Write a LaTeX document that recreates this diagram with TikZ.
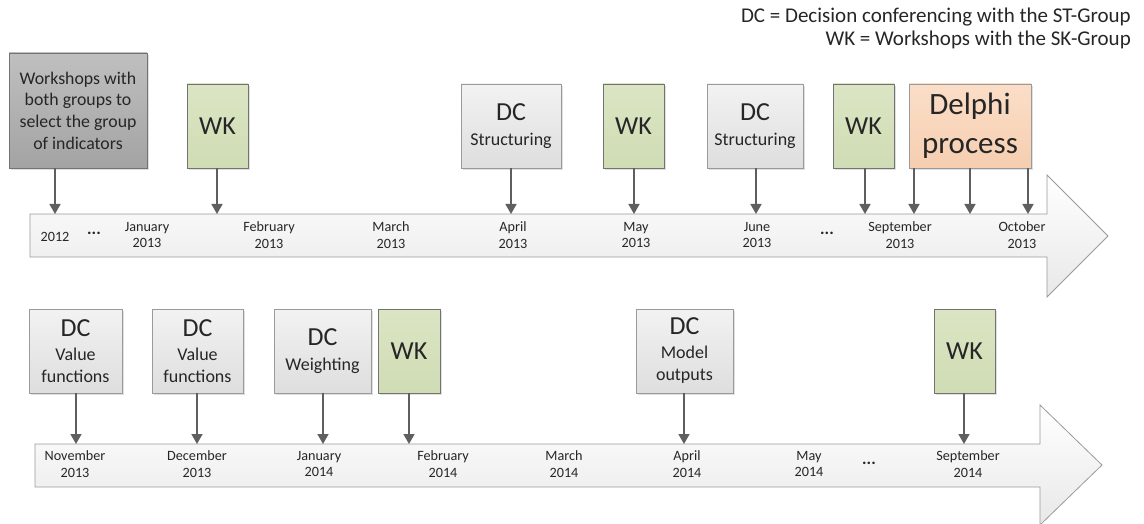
\documentclass[tikz,border=0pt]{standalone}
\usepackage{fontspec}
\setmainfont{Carlito}
\usetikzlibrary{arrows.meta,shadows}

\definecolor{connclr}{HTML}{5F5F5F}
\definecolor{boxedge}{HTML}{9A9A9A}
\definecolor{txt}{HTML}{262626}

\tikzset{
  base/.style={draw=boxedge, line width=0.9pt, inner sep=0pt, align=center,
    text=txt, drop shadow={shadow xshift=1.6pt, shadow yshift=-1.6pt, opacity=0.25, fill=gray}},
  dcbox/.style={base, top color=white!95!black, bottom color=white!87!black,
    font=\fontsize{18}{22}\selectfont},
  wkbox/.style={base, draw=gray!90!black, top color={rgb,255:red,219;green,229;blue,196},
    bottom color={rgb,255:red,208;green,220;blue,180}, font=\fontsize{26}{27}\selectfont},
  greybox/.style={base, draw=gray!90!black, top color=white!75!black, bottom color=white!64!black},
  delphibox/.style={base, top color={rgb,255:red,251;green,222;blue,200},
    bottom color={rgb,255:red,246;green,206;blue,176}},
  timeline/.style={draw=boxedge, line width=0.8pt, top color=white, bottom color=white!91!black},
  conn/.style={draw=connclr, line width=1.7pt, -{Triangle[width=11pt,length=10pt]}},
  month/.style={align=center, text=txt, font=\fontsize{14.2}{16.5}\selectfont, inner sep=0pt},
  dots/.style={text=txt, font=\fontsize{17}{17}\selectfont\bfseries, inner sep=0pt},
  legend/.style={anchor=east, text=txt, font=\fontsize{21}{23}\selectfont, inner sep=0pt},
}
\newcommand{\bigtxt}{\fontsize{26}{27}\selectfont}

\begin{document}
\begin{tikzpicture}[x=1pt,y=-1pt]
\useasboundingbox (0,0) rectangle (1144,524);

% legend
\node[legend] (leg1) at (1131,17) {DC = Decision conferencing with the ST-Group};
\node[legend] (leg2) at (1131,40) {WK = Workshops with the SK-Group};

% ---------------- first timeline ----------------
\path[timeline] (30,214) -- (1047,214) -- (1047,175) -- (1108,236) -- (1047,297)
  -- (1047,257) -- (30,257) -- cycle;

\node[month] (y12) at (55,237) {2012};
\node[dots] (d1) at (94,233) {...};
\node[month] (jan13) at (147,235) {January\\2013};
\node[month] (feb13) at (269,235) {February\\2013};
\node[month] (mar13) at (391,235) {March\\2013};
\node[month] (apr13) at (513,235) {April\\2013};
\node[month] (may13) at (636,235) {May\\2013};
\node[month] (jun13) at (757,235) {June\\2013};
\node[dots] (d2) at (827,233) {...};
\node[month] (sep13) at (900,235) {September\\2013};
\node[month] (oct13) at (1022,235) {October\\2013};

% boxes above the first timeline
\node[greybox, minimum width=138pt, minimum height=115pt,
  font=\fontsize{17.8}{21.7}\selectfont] (sel) at (78,110.5)
  {Workshops with\\both groups to\\select the group\\of indicators};
\node[wkbox, minimum width=61pt, minimum height=84pt] (wk1) at (217.5,126) {WK};
\node[dcbox, minimum width=100pt, minimum height=84pt] (dc1) at (511,126)
  {{\bigtxt DC}\\[3pt]Structuring};
\node[wkbox, minimum width=61pt, minimum height=84pt] (wk2) at (633.5,126) {WK};
\node[dcbox, minimum width=96pt, minimum height=84pt] (dc2) at (755,126)
  {{\bigtxt DC}\\[3pt]Structuring};
\node[wkbox, minimum width=61pt, minimum height=84pt] (wk3) at (863.5,126) {WK};
\node[delphibox, minimum width=122pt, minimum height=84pt,
  font=\fontsize{31}{39}\selectfont] (del) at (970,126) {Delphi\\process};

% points on the first timeline
\coordinate (p0) at (55,214);
\coordinate (p1) at (217,214);
\coordinate (p2) at (511,214);
\coordinate (p3) at (634,214);
\coordinate (p4) at (756,214);
\coordinate (p5) at (865,214);
\coordinate (p6) at (914,214);
\coordinate (p7) at (970,214);
\coordinate (p8) at (1028,214);

\draw[conn] (p0 |- sel.south) -- (p0);
\draw[conn] (p1 |- wk1.south) -- (p1);
\draw[conn] (p2 |- dc1.south) -- (p2);
\draw[conn] (p3 |- wk2.south) -- (p3);
\draw[conn] (p4 |- dc2.south) -- (p4);
\draw[conn] (p5 |- wk3.south) -- (p5);
\draw[conn] (p6 |- del.south) -- (p6);
\draw[conn] (p7 |- del.south) -- (p7);
\draw[conn] (p8 |- del.south) -- (p8);

% ---------------- second timeline ----------------
\path[timeline] (35,444) -- (1040,444) -- (1040,405) -- (1102,465) -- (1040,525)
  -- (1040,487) -- (35,487) -- cycle;

\node[month] (nov13) at (75,464) {November\\2013};
\node[month] (dec13) at (197,464) {December\\2013};
\node[month] (jan14) at (319,464) {January\\2014};
\node[month] (feb14) at (443,464) {February\\2014};
\node[month] (mar14) at (564,464) {March\\2014};
\node[month] (apr14) at (687,464) {April\\2014};
\node[month] (may14) at (809,464) {May\\2014};
\node[dots] (d3) at (869,463) {...};
\node[month] (sep14) at (968,464) {September\\2014};

% boxes above the second timeline
\node[dcbox, minimum width=93pt, minimum height=84pt] (vf1) at (75.5,351)
  {{\bigtxt DC}\\[2pt]Value\\functions};
\node[dcbox, minimum width=91pt, minimum height=84pt] (vf2) at (197.5,351)
  {{\bigtxt DC}\\[2pt]Value\\functions};
\node[dcbox, minimum width=97pt, minimum height=84pt] (wgt) at (322.5,351)
  {{\bigtxt DC}\\[3pt]Weighting};
\node[wkbox, minimum width=62pt, minimum height=84pt] (wk4) at (409,351) {WK};
\node[dcbox, minimum width=97pt, minimum height=84pt] (mo) at (684.5,351)
  {{\bigtxt DC}\\[2pt]Model\\outputs};
\node[wkbox, minimum width=61pt, minimum height=84pt] (wk5) at (964.5,351) {WK};

% points on the second timeline
\coordinate (q1) at (76,444);
\coordinate (q2) at (197,444);
\coordinate (q3) at (323,444);
\coordinate (q4) at (409,444);
\coordinate (q5) at (684,444);
\coordinate (q6) at (964,444);

\draw[conn] (q1 |- vf1.south) -- (q1);
\draw[conn] (q2 |- vf2.south) -- (q2);
\draw[conn] (q3 |- wgt.south) -- (q3);
\draw[conn] (q4 |- wk4.south) -- (q4);
\draw[conn] (q5 |- mo.south) -- (q5);
\draw[conn] (q6 |- wk5.south) -- (q6);
\end{tikzpicture}
\end{document}
